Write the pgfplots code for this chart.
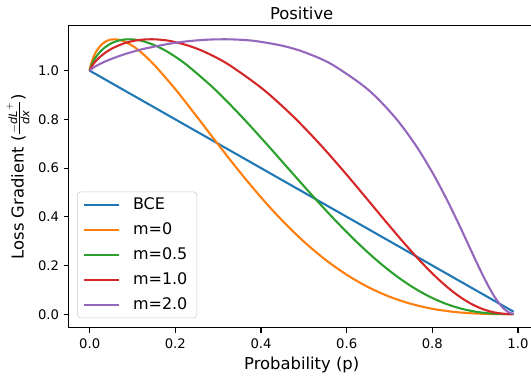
\documentclass[border=0pt]{standalone}
\usepackage{amsmath}
\usepackage{fontspec}
\setmainfont{DejaVu Sans}
\usepackage{pgfplots}
\usepackage{pgfplotstable}
\pgfplotsset{compat=1.18}
\definecolor{c0}{HTML}{1F77B4}
\definecolor{c1}{HTML}{FF7F0E}
\definecolor{c2}{HTML}{2CA02C}
\definecolor{c3}{HTML}{D62728}
\definecolor{c4}{HTML}{9467BD}

\pgfplotstableread{
p g
0 1
0.001 1.01079
0.0025 1.02233
0.005 1.03753
0.01 1.06054
0.015 1.07791
0.02 1.09148
0.03 1.11063
0.04 1.12206
0.05 1.12774
0.06 1.12890
0.07 1.12636
0.08 1.12073
0.1 1.10202
0.12 1.07553
0.15 1.02533
0.2 0.92402
0.25 0.81177
0.3 0.69697
0.35 0.58511
0.4 0.47989
0.45 0.38377
0.5 0.29829
0.55 0.22429
0.6 0.16208
0.65 0.11148
0.7 0.07194
0.75 0.04260
0.8 0.02228
0.85 0.00959
0.9 0.00290
0.95 0.00037
0.99 0.00000
}\mzero

\pgfplotstableread{
p g
0 1
0.001648 1.01079
0.004115 1.02233
0.008217 1.03753
0.016381 1.06054
0.024492 1.07791
0.032552 1.09148
0.048517 1.11063
0.064281 1.12206
0.079846 1.12774
0.095217 1.12890
0.110397 1.12636
0.125390 1.12073
0.154828 1.10202
0.183557 1.07553
0.225376 1.02533
0.291875 0.92402
0.354658 0.81177
0.414039 0.69697
0.470276 0.58511
0.523616 0.47989
0.574279 0.38377
0.622459 0.29829
0.668336 0.22429
0.712070 0.16208
0.753807 0.11148
0.793688 0.07194
0.831823 0.04260
0.868345 0.02228
0.903315 0.00959
0.936862 0.00290
0.969065 0.00037
0.99 0.00001
}\mhalf

\pgfplotstableread{
p g
0 1
0.002714 1.01079
0.006767 1.02233
0.013476 1.03753
0.026724 1.06054
0.039750 1.07791
0.052559 1.09148
0.077551 1.11063
0.101738 1.12206
0.125161 1.12774
0.147855 1.12890
0.169850 1.12636
0.191182 1.12073
0.231967 1.10202
0.270437 1.07553
0.324186 1.02533
0.404611 0.92402
0.475370 0.81177
0.538107 0.69697
0.594104 0.58511
0.644407 0.47989
0.689831 0.38377
0.731059 0.29829
0.768643 0.22429
0.803050 0.16208
0.834669 0.11148
0.863810 0.07194
0.890768 0.04260
0.915776 0.02228
0.939038 0.00959
0.960730 0.00290
0.981006 0.00037
0.99 0.00006
}\mone

\pgfplotstableread{
p g
0 1
0.007342 1.01079
0.018182 1.02233
0.035801 1.03753
0.069453 1.06054
0.101143 1.07791
0.131037 1.09148
0.186018 1.11063
0.235402 1.12206
0.280005 1.12774
0.320487 1.12890
0.357393 1.12636
0.391180 1.12073
0.450853 1.10202
0.501893 1.07553
0.565963 1.02533
0.648786 0.92402
0.711233 0.81177
0.760006 0.69697
0.799144 0.58511
0.831255 0.47989
0.858067 0.38377
0.880797 0.29829
0.900309 0.22429
0.917243 0.16208
0.932078 0.11148
0.945178 0.07194
0.956835 0.04260
0.967274 0.02228
0.976674 0.00959
0.985185 0.00290
0.99 0.00098
}\mtwo

\begin{document}
\begin{tikzpicture}
\useasboundingbox (-49.3pt,-36.0pt) rectangle (333.0pt,236.1pt);
\begin{axis}[
  at={(0,0)}, anchor=south west,
  scale only axis, width=335.8pt, height=217.7pt,
  xmin=-0.0495, xmax=1.0395, ymin=-0.0564, ymax=1.1853,
  xtick={0,0.2,0.4,0.6,0.8,1.0},
  ytick={0,0.2,0.4,0.6,0.8,1.0},
  tick pos=left, tick align=outside, major tick length=3.5pt,
  every tick/.style={black, line width=0.8pt},
  axis line style={line width=0.8pt},
  tick label style={font=\fontsize{9.5}{11}\selectfont},
  /pgf/number format/assume math mode=true,
  xticklabel style={/pgf/number format/.cd, fixed, fixed zerofill, precision=1, /tikz/.cd, inner sep=0pt, yshift=-3.9pt},
  yticklabel style={/pgf/number format/.cd, fixed, fixed zerofill, precision=1, /tikz/.cd, inner sep=0pt, xshift=-3.1pt},
  title=Positive,
  title style={font=\fontsize{11.8}{13}\selectfont, at={(axis description cs:0.5,1)}, anchor=base, yshift=-1.7pt, inner sep=0pt},
  xlabel={Probability (p)},
  xlabel style={font=\fontsize{11.8}{13}\selectfont, at={(axis description cs:0.5,0)}, anchor=base, yshift=-29.7pt, inner sep=0pt},
  ylabel={Loss Gradient ($\frac{-\textit{dL}^{+}}{\textit{dx}}$)},
  ylabel style={font=\fontsize{11.8}{13}\selectfont, at={(axis description cs:-0.0959,0.5)}, anchor=base, inner sep=0pt},
  legend style={at={(axis description cs:0,0)}, anchor=south west, xshift=6.2pt, yshift=7pt,
    draw=black!20, rounded corners=2.5pt, fill=white, fill opacity=0.8, text opacity=1,
    inner xsep=3.9pt, inner ysep=4.5pt, font=\fontsize{11.5}{13}\selectfont, row sep=7.9pt,
    nodes={inner sep=0pt},
    /tikz/every odd column/.append style={column sep=9.1pt},
    /tikz/every even column/.append style={text width=42pt}},
  legend cell align=left,
  legend image code/.code={\draw[#1] (0pt,0pt) -- (25.6pt,0pt);},
]
\addplot[c0, line width=1.5pt] coordinates {(0,1) (0.99,0.01)};
\addlegendentry{BCE}
\addplot[c1, line width=1.5pt, smooth] table[x=p, y=g] {\mzero};
\addlegendentry{m=0}
\addplot[c2, line width=1.5pt, smooth] table[x=p, y=g] {\mhalf};
\addlegendentry{m=0.5}
\addplot[c3, line width=1.5pt, smooth] table[x=p, y=g] {\mone};
\addlegendentry{m=1.0}
\addplot[c4, line width=1.5pt, smooth] table[x=p, y=g] {\mtwo};
\addlegendentry{m=2.0}
\end{axis}
\end{tikzpicture}
\end{document}
